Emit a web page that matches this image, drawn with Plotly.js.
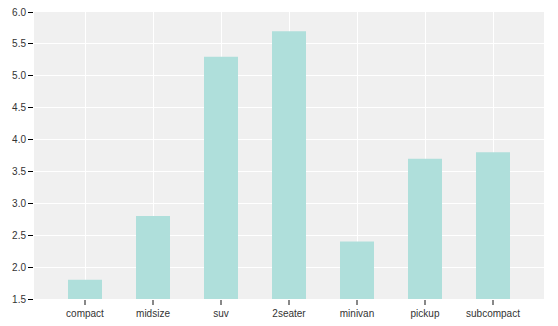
<!DOCTYPE html>
<html><head><meta charset="utf-8">
<script src="https://cdn.plot.ly/plotly-3.0.1.min.js"></script>
<style>body{margin:0;}#chart{width:558px;height:326px;}</style>
</head><body><div id="chart"></div>
<script>
const categories = ["compact","midsize","suv","2seater","minivan","pickup","subcompact"];
const values = [1.8, 2.8, 5.3, 5.7, 2.4, 3.7, 3.8];
const yTicks = [1.5,2.0,2.5,3.0,3.5,4.0,4.5,5.0,5.5,6.0];
const yTickLabels = ["1.5","2.0","2.5","3.0","3.5","4.0","4.5","5.0","5.5","6.0"];

Plotly.newPlot('chart', [{
  type: 'bar', x: categories, y: values, width: 0.5,
  marker: {color: '#afdfdb'}, hoverinfo: 'x+y'
}], {
  width: 558, height: 326,
  margin: {l: 34, r: 14, t: 12, b: 27},
  paper_bgcolor: '#ffffff', plot_bgcolor: '#f0f0f0',
  font: {family: 'Liberation Sans, Arial, sans-serif', size: 10, color: '#333'},
  bargap: 0.5,
  xaxis: {range: [-0.75, 6.75], showgrid: true, gridcolor: '#ffffff', gridwidth: 1,
          ticks: 'outside', ticklen: 5, tickwidth: 1.5, tickcolor: '#888',
          zeroline: false, showline: false, tickfont: {size: 10, color: '#333'}},
  yaxis: {range: [1.5, 6.0], tickvals: yTicks, ticktext: yTickLabels,
          showgrid: true, gridcolor: '#ffffff', gridwidth: 1,
          ticks: 'outside', ticklen: 5, tickwidth: 1, tickcolor: '#000',
          zeroline: false, showline: false, tickfont: {size: 10, color: '#333'}},
  showlegend: false
}, {displayModeBar: false, staticPlot: true});
</script></body></html>
